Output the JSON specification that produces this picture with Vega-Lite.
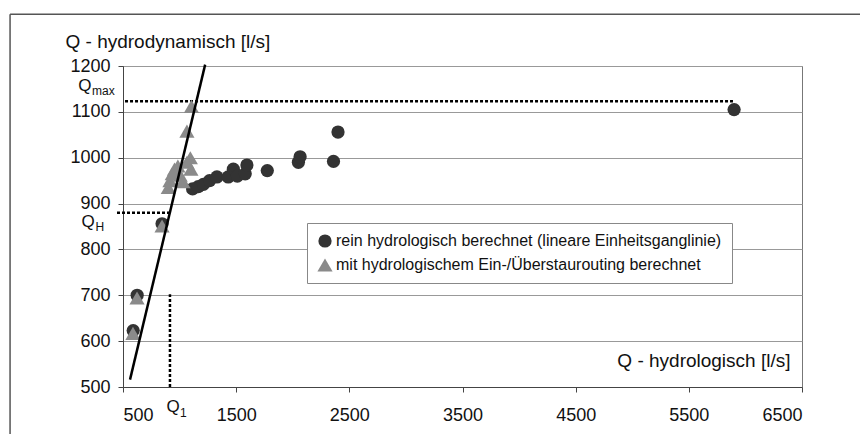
{
  "$schema": "https://vega.github.io/schema/vega-lite/v6.json",
  "width": 679,
  "height": 321,
  "autosize": {"type": "none"},
  "padding": {"left": 123, "top": 66, "right": 58, "bottom": 47},
  "background": "white",
  "config": {
    "font": "Liberation Sans",
    "view": {"stroke": "#777", "strokeWidth": 1},
    "legend": {
      "orient": "none",
      "legendX": 184,
      "legendY": 157,
      "padding": 10,
      "strokeColor": "#888",
      "fillColor": "white",
      "labelFontSize": 16,
      "labelColor": "#111",
      "labelOffset": 3,
      "symbolSize": 150,
      "symbolStrokeWidth": 0,
      "rowPadding": 8,
      "labelLimit": 700
    }
  },
  "encoding": {
    "x": {
      "field": "x",
      "type": "quantitative",
      "scale": {"domain": [500, 6500], "nice": false, "zero": false},
      "axis": {
        "values": [500, 1500, 2500, 3500, 4500, 5500, 6500],
        "format": "d",
        "grid": false,
        "title": "Q - hydrologisch [l/s]",
        "titleAlign": "right",
        "titleBaseline": "middle",
        "titleX": 667,
        "titleY": -27,
        "titleFontSize": 19,
        "titleFontWeight": "normal",
        "titleColor": "#111",
        "labelFontSize": 18,
        "labelColor": "#111",
        "labelPadding": 14,
        "domainColor": "#444",
        "tickColor": "#444",
        "tickSize": 5
      }
    },
    "y": {
      "field": "y",
      "type": "quantitative",
      "scale": {"domain": [500, 1200], "nice": false, "zero": false},
      "axis": {
        "values": [500, 600, 700, 800, 900, 1000, 1100, 1200],
        "format": "d",
        "grid": true,
        "gridColor": "#999",
        "title": "Q - hydrodynamisch [l/s]",
        "titleAngle": 0,
        "titleAlign": "left",
        "titleBaseline": "middle",
        "titleX": -58,
        "titleY": -25,
        "titleFontSize": 19,
        "titleFontWeight": "normal",
        "titleColor": "#111",
        "labelFontSize": 18,
        "labelColor": "#111",
        "labelPadding": 8,
        "domainColor": "#444",
        "tickColor": "#444",
        "tickSize": 5
      }
    }
  },
  "layer": [
    {
      "data": {"values": [
        {"x": -498, "x2": 7100, "y": 1313, "y2": 1313},
        {"x": -498, "x2": -498, "y": 1313, "y2": 300}
      ]},
      "mark": {"type": "rule", "clip": false, "color": "#555", "strokeWidth": 1.5},
      "encoding": {"x2": {"field": "x2"}, "y2": {"field": "y2"}}
    },
    {
      "data": {"values": [
        {"x": 518, "x2": 5890, "y": 1123, "y2": 1123},
        {"x": 447, "x2": 920, "y": 880, "y2": 880},
        {"x": 915, "x2": 915, "y": 500, "y2": 702}
      ]},
      "mark": {"type": "rule", "clip": false, "color": "#000", "strokeWidth": 2.5, "strokeDash": [3, 2]},
      "encoding": {"x2": {"field": "x2"}, "y2": {"field": "y2"}}
    },
    {
      "data": {"values": [
        {"m": "rein hydrologisch berechnet (lineare Einheitsganglinie)", "x": 590, "y": 623},
        {"m": "rein hydrologisch berechnet (lineare Einheitsganglinie)", "x": 625, "y": 700},
        {"m": "rein hydrologisch berechnet (lineare Einheitsganglinie)", "x": 845, "y": 856},
        {"m": "rein hydrologisch berechnet (lineare Einheitsganglinie)", "x": 1115, "y": 932},
        {"m": "rein hydrologisch berechnet (lineare Einheitsganglinie)", "x": 1165, "y": 937},
        {"m": "rein hydrologisch berechnet (lineare Einheitsganglinie)", "x": 1210, "y": 942},
        {"m": "rein hydrologisch berechnet (lineare Einheitsganglinie)", "x": 1265, "y": 950},
        {"m": "rein hydrologisch berechnet (lineare Einheitsganglinie)", "x": 1330, "y": 958},
        {"m": "rein hydrologisch berechnet (lineare Einheitsganglinie)", "x": 1430, "y": 958},
        {"m": "rein hydrologisch berechnet (lineare Einheitsganglinie)", "x": 1475, "y": 975},
        {"m": "rein hydrologisch berechnet (lineare Einheitsganglinie)", "x": 1510, "y": 960},
        {"m": "rein hydrologisch berechnet (lineare Einheitsganglinie)", "x": 1580, "y": 965},
        {"m": "rein hydrologisch berechnet (lineare Einheitsganglinie)", "x": 1595, "y": 984},
        {"m": "rein hydrologisch berechnet (lineare Einheitsganglinie)", "x": 1775, "y": 972},
        {"m": "rein hydrologisch berechnet (lineare Einheitsganglinie)", "x": 2050, "y": 990},
        {"m": "rein hydrologisch berechnet (lineare Einheitsganglinie)", "x": 2065, "y": 1002},
        {"m": "rein hydrologisch berechnet (lineare Einheitsganglinie)", "x": 2360, "y": 992},
        {"m": "rein hydrologisch berechnet (lineare Einheitsganglinie)", "x": 2400, "y": 1056},
        {"m": "rein hydrologisch berechnet (lineare Einheitsganglinie)", "x": 5900, "y": 1105},
        {"m": "mit hydrologischem Ein-/Überstaurouting berechnet", "x": 588, "y": 617},
        {"m": "mit hydrologischem Ein-/Überstaurouting berechnet", "x": 624, "y": 694},
        {"m": "mit hydrologischem Ein-/Überstaurouting berechnet", "x": 845, "y": 851},
        {"m": "mit hydrologischem Ein-/Überstaurouting berechnet", "x": 900, "y": 935},
        {"m": "mit hydrologischem Ein-/Überstaurouting berechnet", "x": 915, "y": 950},
        {"m": "mit hydrologischem Ein-/Überstaurouting berechnet", "x": 935, "y": 965},
        {"m": "mit hydrologischem Ein-/Überstaurouting berechnet", "x": 955, "y": 975},
        {"m": "mit hydrologischem Ein-/Überstaurouting berechnet", "x": 985, "y": 982},
        {"m": "mit hydrologischem Ein-/Überstaurouting berechnet", "x": 1005, "y": 962},
        {"m": "mit hydrologischem Ein-/Überstaurouting berechnet", "x": 1030, "y": 948},
        {"m": "mit hydrologischem Ein-/Überstaurouting berechnet", "x": 1065, "y": 990},
        {"m": "mit hydrologischem Ein-/Überstaurouting berechnet", "x": 1095, "y": 1000},
        {"m": "mit hydrologischem Ein-/Überstaurouting berechnet", "x": 1100, "y": 975},
        {"m": "mit hydrologischem Ein-/Überstaurouting berechnet", "x": 1065, "y": 1058},
        {"m": "mit hydrologischem Ein-/Überstaurouting berechnet", "x": 1105, "y": 1112}
      ]},
      "mark": {"type": "point", "filled": true, "opacity": 1, "clip": false},
      "encoding": {
        "shape": {
          "field": "m",
          "type": "nominal",
          "scale": {
            "domain": ["rein hydrologisch berechnet (lineare Einheitsganglinie)", "mit hydrologischem Ein-/Überstaurouting berechnet"],
            "range": ["circle", "triangle-up"]
          },
          "legend": {"title": null}
        },
        "color": {
          "field": "m",
          "type": "nominal",
          "scale": {
            "domain": ["rein hydrologisch berechnet (lineare Einheitsganglinie)", "mit hydrologischem Ein-/Überstaurouting berechnet"],
            "range": ["#333333", "#8a8a8a"]
          },
          "legend": {"title": null}
        },
        "size": {
          "field": "m",
          "type": "nominal",
          "scale": {
            "domain": ["rein hydrologisch berechnet (lineare Einheitsganglinie)", "mit hydrologischem Ein-/Überstaurouting berechnet"],
            "range": [175, 230]
          },
          "legend": null
        }
      }
    },
    {
      "data": {"values": [{"x": 562, "y": 516}, {"x": 1226, "y": 1203}]},
      "mark": {"type": "line", "clip": false, "color": "#000", "strokeWidth": 2.5},
      "encoding": {}
    },
    {
      "data": {"values": [
        {"x": 164, "y": 1156, "t": "Q"},
        {"x": 191, "y": 859, "t": "Q"},
        {"x": 942, "y": 456, "t": "Q"}
      ]},
      "mark": {"type": "text", "clip": false, "fontSize": 17, "align": "center", "baseline": "middle", "color": "#111"},
      "encoding": {"text": {"field": "t"}}
    },
    {
      "data": {"values": [
        {"x": 226, "y": 1146, "t": "max"},
        {"x": 257, "y": 849, "t": "H"},
        {"x": 1004, "y": 443, "t": "1"}
      ]},
      "mark": {"type": "text", "clip": false, "fontSize": 12, "align": "left", "baseline": "middle", "color": "#111"},
      "encoding": {"text": {"field": "t"}}
    }
  ]
}
